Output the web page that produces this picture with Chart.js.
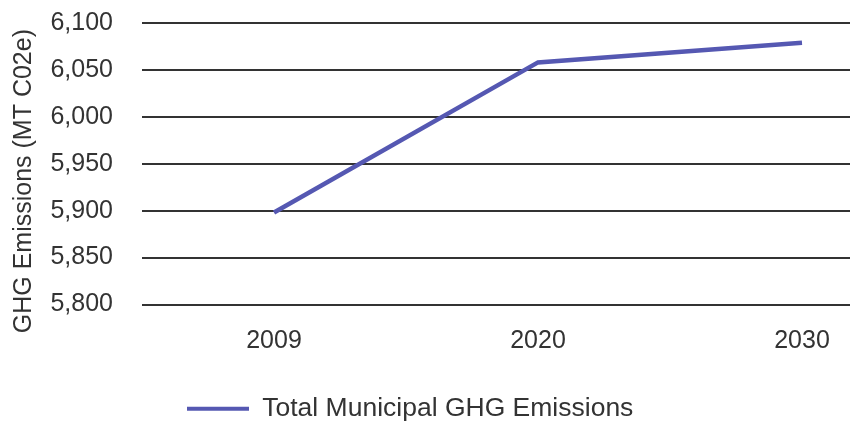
<!DOCTYPE html>
<html>
<head>
<meta charset="utf-8">
<script src="https://cdn.jsdelivr.net/npm/chart.js@4/dist/chart.umd.min.js"></script>
<style>
  html, body { margin: 0; padding: 0; background: #fff; overflow: hidden; }
  #wrap { width: 940px; height: 430px; }
</style>
</head>
<body>
<div id="wrap"><canvas id="c" width="940" height="430"></canvas></div>
<script>
const categories = ['2009', '2020', '2030'];
const seriesName = 'Total Municipal GHG Emissions';
const seriesValues = [5898, 6058, 6079];
const yTickMin = 5800;
const yTickMax = 6100;
const yTickStep = 50;
const yTitle = 'GHG Emissions (MT C02e)     ';

const lineColor = '#5558b2';
const textColor = '#333333';
const fontFamily = '"Liberation Sans", Arial, Helvetica, sans-serif';

const legendShift = {
  id: 'legendShift',
  afterLayout(chart) {
    const lg = chart.legend;
    if (lg) {
      const w = lg.right - lg.left;
      lg.left = 177; lg.right = 177 + w;
      lg.top += 2; lg.bottom += 2;
    }
  }
};

new Chart(document.getElementById('c'), {
  type: 'line',
  data: {
    labels: categories,
    datasets: [{
      label: seriesName,
      data: seriesValues,
      borderColor: lineColor,
      backgroundColor: lineColor,
      borderWidth: 4.5,
      pointRadius: 0,
      tension: 0,
      fill: false
    }]
  },
  options: {
    responsive: false,
    animation: false,
    layout: { padding: { left: 0, right: 6, top: 23, bottom: 0 } },
    scales: {
      x: {
        type: 'category',
        offset: true,
        grid: { display: false, drawTicks: false },
        border: { display: false },
        ticks: { color: textColor, padding: 22, font: { family: fontFamily, size: 25 }, maxRotation: 0 },
        afterFit(scale) { scale.height = 79; }
      },
      y: {
        min: yTickMin,
        max: yTickMax,
        grid: { color: '#333333', lineWidth: 2, drawTicks: false },
        border: { display: false },
        ticks: {
          stepSize: yTickStep,
          color: textColor,
          padding: 29,
          font: { family: fontFamily, size: 25 }
        },
        title: {
          display: true,
          text: yTitle,
          color: textColor,
          padding: { top: 9, bottom: 0 },
          font: { family: fontFamily, size: 25 }
        },
        afterFit(scale) { scale.width = 142; scale.paddingTop = 0; scale.paddingBottom = 0; }
      }
    },
    plugins: {
      tooltip: { enabled: false },
      legend: {
        display: true,
        position: 'bottom',
        align: 'start',
        labels: {
          color: textColor,
          font: { family: fontFamily, size: 26.5 },
          boxWidth: 62,
          boxHeight: 4,
          padding: 10,
          generateLabels(chart) {
            return Chart.defaults.plugins.legend.labels.generateLabels(chart).map(l => Object.assign({}, l, { lineWidth: 0, fillStyle: lineColor, strokeStyle: lineColor }));
          }
        }
      }
    }
  },
  plugins: [legendShift]
});
</script>
</body>
</html>
